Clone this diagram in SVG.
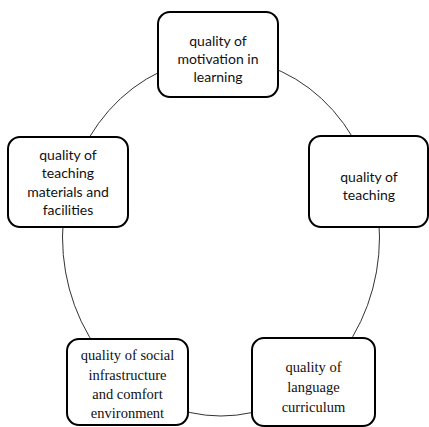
<svg xmlns="http://www.w3.org/2000/svg" width="429" height="427" viewBox="0 0 429 427">
<style>
.box{fill:#fff;stroke:#000;stroke-width:2}
.s{font-family:Lato,"Open Sans","Liberation Sans",sans-serif;font-size:14px;fill:#111;text-anchor:middle}
.r{font-family:'Liberation Serif','DejaVu Serif',serif;font-size:14.5px;fill:#111;text-anchor:middle}
.c{fill:none;stroke:#333;stroke-width:1}
</style>
<rect width="429" height="427" fill="#fff"/>
<g id="connectors">
<ellipse class="c" cx="221" cy="237" rx="158.5" ry="179"/>
</g>
<g id="n1">
<rect class="box" x="158" y="12" width="120" height="85" rx="12"/>
<text class="s" x="218" y="46">quality of</text>
<text class="s" x="218" y="64">motivation in</text>
<text class="s" x="218" y="82">learning</text>
</g>
<g id="n2">
<rect class="box" x="309" y="136" width="119" height="91" rx="12"/>
<text class="s" x="369" y="182">quality of</text>
<text class="s" x="369" y="200">teaching</text>
</g>
<g id="n3">
<rect class="box" x="252" y="338" width="123" height="88" rx="12"/>
<text class="r" x="313.5" y="372">quality of</text>
<text class="r" x="313.5" y="392">language</text>
<text class="r" x="313.5" y="412">curriculum</text>
</g>
<g id="n4">
<rect class="box" x="67" y="339" width="121" height="86" rx="12"/>
<text class="r" x="127.5" y="360">quality of social</text>
<text class="r" x="127.5" y="380">infrastructure</text>
<text class="r" x="127.5" y="399">and comfort</text>
<text class="r" x="127.5" y="418">environment</text>
</g>
<g id="n5">
<rect class="box" x="8" y="137" width="120" height="90" rx="12"/>
<text class="s" x="68" y="160">quality of</text>
<text class="s" x="68" y="178">teaching</text>
<text class="s" x="68" y="197">materials and</text>
<text class="s" x="68" y="215">facilities</text>
</g>
</svg>
